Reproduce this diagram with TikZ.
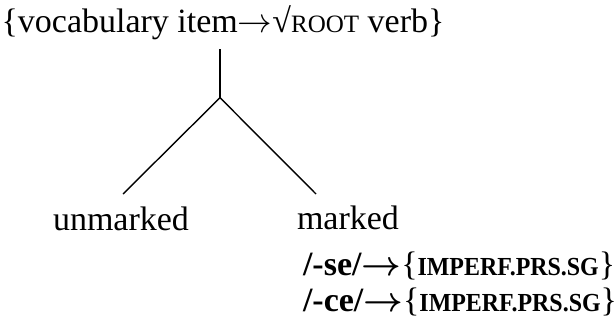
\documentclass[tikz,border=0pt]{standalone}
\usepackage{fontspec}
\usepackage{graphicx}
\setmainfont{Liberation Serif}
% small capitals imitated by smaller upper-case letters
\newcommand\fakesc[1]{{\fontsize{12.5pt}{15pt}\selectfont #1}}
\newcommand\fakescb[1]{\scalebox{0.92}[1]{\fontsize{13pt}{15pt}\selectfont #1}}
\newcommand\rarr{$\rightarrow$}
\newcommand\brarr{{\boldmath$\rightarrow$}}
\begin{document}
\begin{tikzpicture}[x=0.5pt,y=-0.5pt,
  every node/.style={inner sep=0pt, outer sep=0pt, font=\fontsize{17pt}{20pt}\selectfont},
  branch/.style={line width=0.7pt, line cap=butt}]
\useasboundingbox (0,0) rectangle (614,321);

\node[anchor=base] (top) at (223,32.5) {\{vocabulary item\rarr√\fakesc{ROOT} verb\}};

\coordinate (stemtop) at (220,49);
\coordinate (fork) at (220,97.7);
\coordinate (lend) at (123,194);
\coordinate (rend) at (316,194);

\node[anchor=base] (unm) at (121,230) {unmarked};
\node[anchor=base west] (mk) at (297,229) {marked};
\node[anchor=base west] (se) at (303,275)
  {\textbf{/-se/\brarr\textmd{\{}\fakescb{IMPERF.PRS.SG}\textmd{\}}}};
\node[anchor=base west] (ce) at (303,311)
  {\textbf{/-ce/\brarr\textmd{\{}\fakescb{IMPERF.PRS.SG}\textmd{\}}}};

\draw[branch] (stemtop) -- (fork);
\draw[branch] (fork) -- (lend);
\draw[branch] (fork) -- (rend);
\end{tikzpicture}
\end{document}
